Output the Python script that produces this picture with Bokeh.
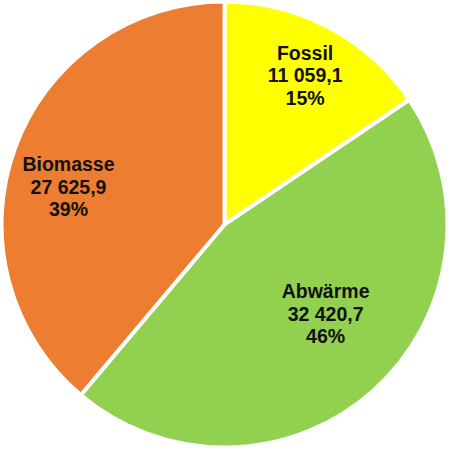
import math
from bokeh.plotting import figure
from bokeh.models import Range1d, ColumnDataSource
from bokeh.core.properties import value
from bokeh.embed import file_html
from bokeh.resources import INLINE

# ---- data ----
categories = ["Fossil", "Abwärme", "Biomasse"]
values = [11059.1, 32420.7, 27625.9]
value_labels = ["11 059,1", "32 420,7", "27 625,9"]
percent_labels = ["15%", "46%", "39%"]
colors = ["#FFFF00", "#92D050", "#ED7D31"]

# ---- layout ----
W = H = 450
cx, cy = 224, 226
R = 223
label_r = [0.76, 0.604, 0.72]      # fraction of radius
label_da = [-0.4, 6.7, 6.4]        # angle tweak in degrees
line_gap = 22.5

total = sum(values)
starts, ends, mids = [], [], []
a = 90.0
for v in values:
    span = v / total * 360.0
    starts.append(math.radians(a))
    ends.append(math.radians(a - span))
    mids.append(a - span / 2)
    a -= span

p = figure(width=W, height=H, output_backend="svg", toolbar_location=None,
           x_range=Range1d(0, W), y_range=Range1d(0, H), min_border=0,
           background_fill_color="white", border_fill_color="white")
p.axis.visible = False
p.grid.visible = False
p.outline_line_color = None

src = ColumnDataSource(dict(start=starts, end=ends, color=colors,
                            x=[cx] * 3, y=[cy] * 3))
p.wedge(x="x", y="y", radius=R, start_angle="start", end_angle="end",
        direction="clock", fill_color="color", line_color="white",
        line_width=4, source=src)

lx, ly = [], []
for i in range(3):
    ang = math.radians(mids[i] + label_da[i])
    lx.append(cx + label_r[i] * R * math.cos(ang))
    ly.append(cy + label_r[i] * R * math.sin(ang))

for k, texts in enumerate([categories, value_labels, percent_labels]):
    off = (1 - k) * line_gap
    p.text(x=lx, y=[y + off for y in ly], text=texts,
           text_align="center", text_baseline="middle",
           text_font=value("Liberation Sans"), text_font_style="bold",
           text_font_size="19.5px", text_color="#111111")

open("out.html", "w").write(file_html(p, INLINE))
